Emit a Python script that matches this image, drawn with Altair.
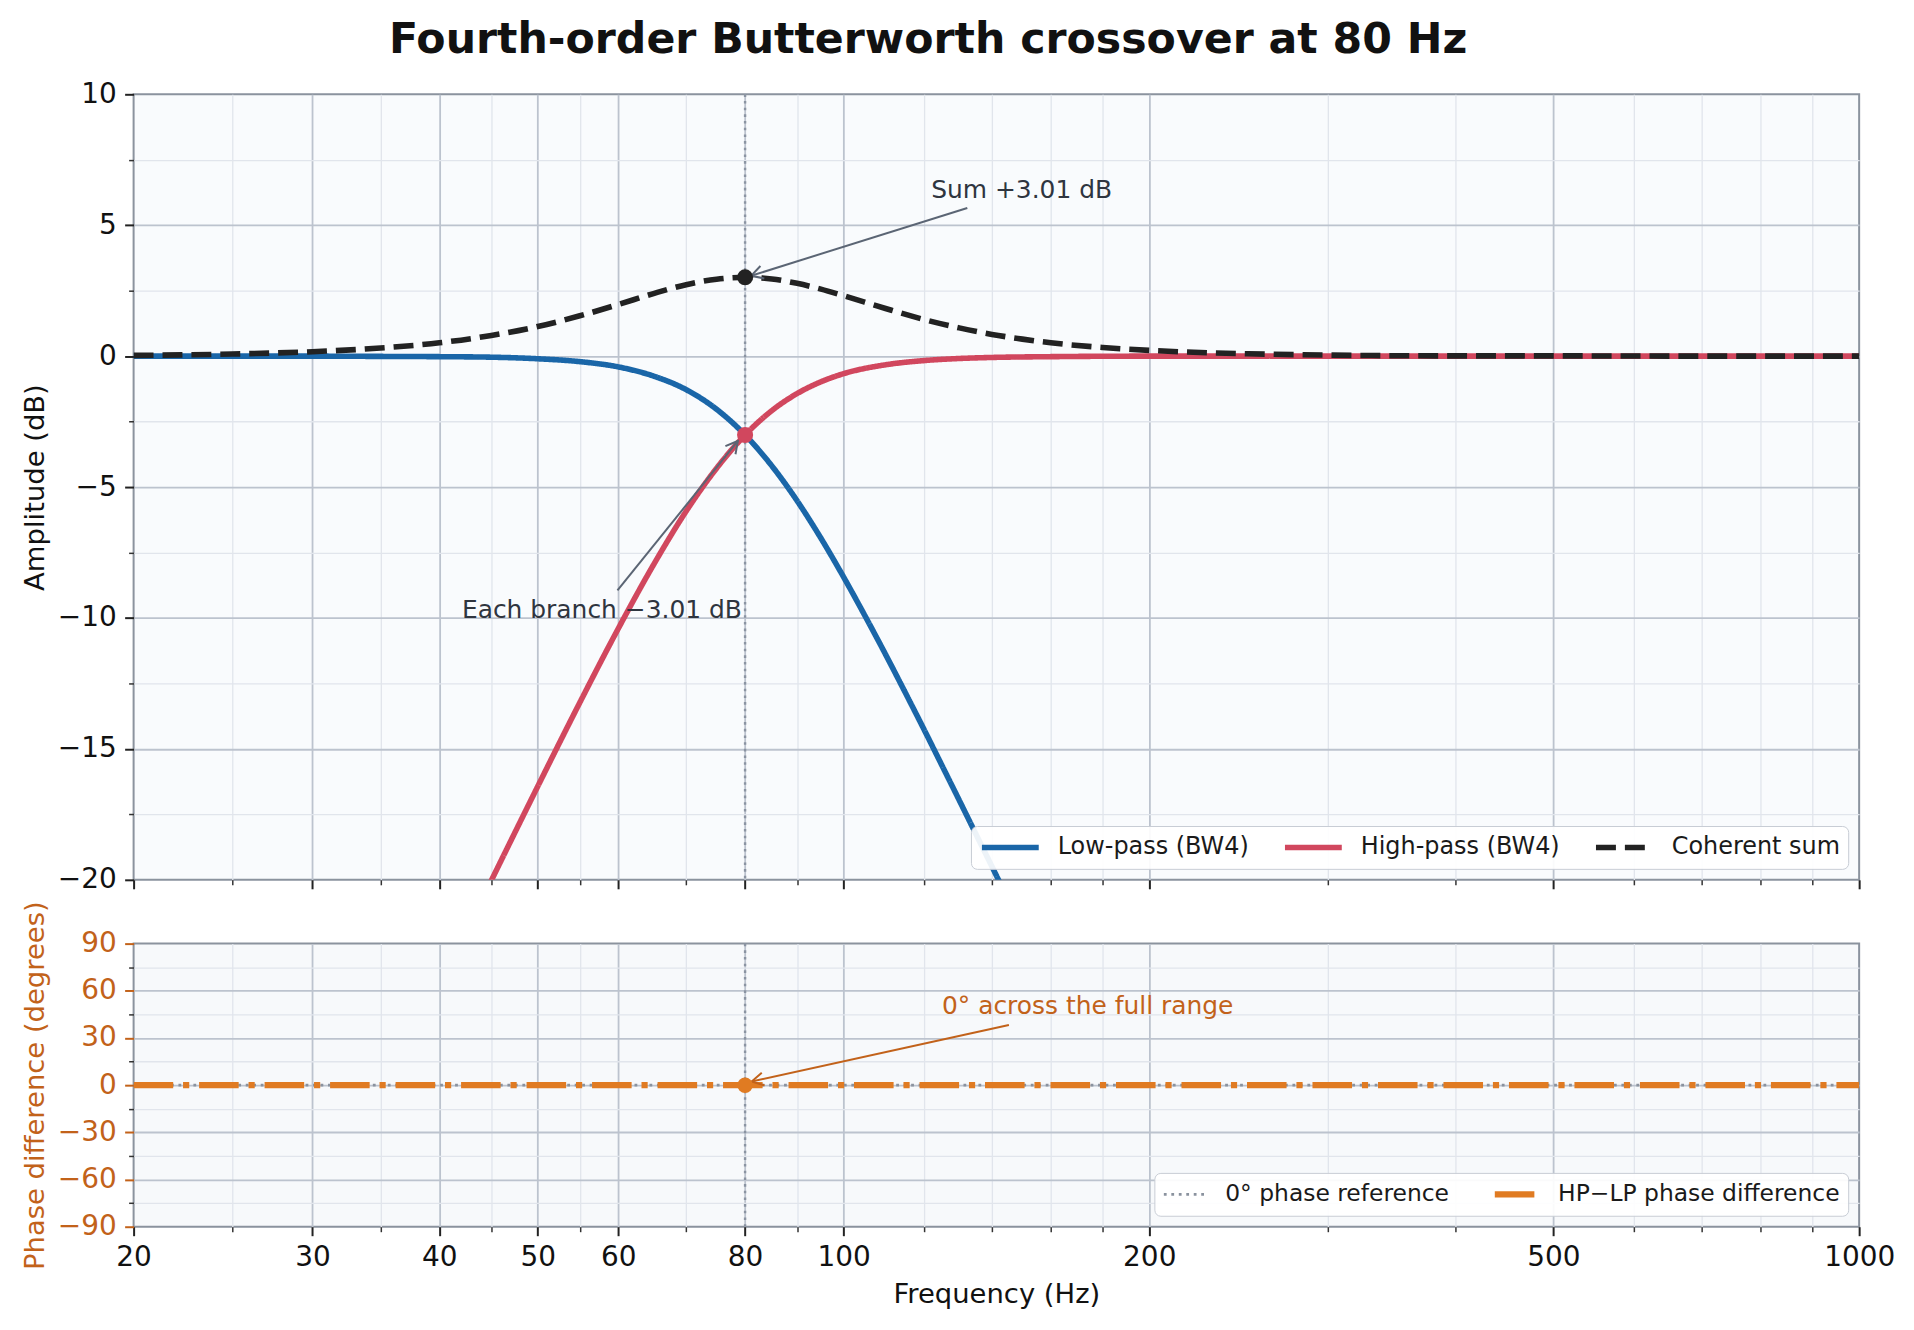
import altair as alt
import pandas as pd

FONT = "DejaVu Sans"

# ---------------- data ----------------
lp_f = [20, 25, 30, 35, 40, 45, 50, 55, 60, 65, 70, 75, 80, 85, 90, 95, 100,
        105, 110, 115, 120, 125, 130, 135, 140, 145, 150, 160]
lp_db = [0.00, 0.00, 0.00, -0.01, -0.02, -0.04, -0.10, -0.21, -0.41, -0.76, -1.28,
         -2.03, -3.01, -4.19, -5.52, -6.95, -8.43, -9.92, -11.39, -12.84, -14.25,
         -15.63, -16.96, -18.25, -19.49, -20.70, -21.87, -24.10]

hp_f = [40, 42, 45, 50, 55, 60, 65, 70, 75, 80, 85, 90, 95, 100, 110, 120, 130,
        140, 160, 200, 300, 500, 1000]
hp_db = [-24.10, -22.41, -20.03, -16.43, -13.23, -10.41, -7.97, -5.92, -4.28, -3.01,
         -2.08, -1.43, -0.98, -0.67, -0.33, -0.17, -0.09, -0.05, -0.02, 0.00, 0.00,
         0.00, 0.00]

sum_f = [20, 25, 30, 35, 40, 45, 50, 55, 60, 65, 70, 75, 80, 85, 90, 95, 100, 110,
         120, 130, 140, 150, 160, 180, 200, 250, 300, 400, 500, 700, 1000]
sum_db = [0.03, 0.08, 0.17, 0.31, 0.51, 0.79, 1.13, 1.54, 1.97, 2.39, 2.73, 2.94,
          3.01, 2.95, 2.78, 2.56, 2.31, 1.82, 1.40, 1.08, 0.83, 0.65, 0.51, 0.33,
          0.22, 0.09, 0.04, 0.01, 0.01, 0.00, 0.00]

ref_f = [20, 1000]
ref_deg = [0, 0]
phase_f = [20, 1000]
phase_deg = [0, 0]

crossover_f = [80]
sum_peak_db = [3.01]
branch_db = [-3.01]
phase_at_xo = [0]

top_series = ["Low-pass (BW4)", "High-pass (BW4)", "Coherent sum"]
bot_series = ["0\u00b0 phase reference", "HP\u2212LP phase difference"]

# annotations (text anchor, arrow start, arrow tip, arrow heading)
top_text = ["Sum +3.01 dB", "Each branch \u22123.01 dB"]
top_text_f = [122, 42.1]
top_text_db = [6.05, -10.0]
top_arrow_f1 = [132.4, 59.9]
top_arrow_db1 = [5.66, -8.95]
top_arrow_f2 = [81.1, 78.7]
top_arrow_db2 = [3.07, -3.24]
top_arrow_angle = [162.6, 308.9]

bot_text = ["0\u00b0 across the full range"]
bot_text_f = [125]
bot_text_deg = [45.5]
bot_arrow_f1 = [145.5]
bot_arrow_deg1 = [38.2]
bot_arrow_f2 = [81.2]
bot_arrow_deg2 = [2.3]
bot_arrow_angle = [167.6]

# ticks
x_major = [20, 30, 40, 50, 60, 80, 100, 200, 500, 1000]
x_grid = [30, 40, 50, 60, 80, 100, 200, 500]
x_minor = [25, 35, 45, 55, 70, 90, 120, 140, 160, 180, 300, 400, 600, 700, 800, 900]
amp_major = [10, 5, 0, -5, -10, -15, -20]
amp_grid = [5, 0, -5, -10, -15]
amp_minor = [7.5, 2.5, -2.5, -7.5, -12.5, -17.5]
ph_major = [90, 60, 30, 0, -30, -60, -90]
ph_grid = [60, 30, 0, -30, -60]
ph_minor = [75, 45, 15, -15, -45, -75]

# ---------------- styles ----------------
BLUE = "#1a66a8"
RED = "#d1475e"
DARK = "#222222"
ORANGE = "#e07b22"
ORANGE_TXT = "#c2621a"
GREY = "#8a929e"
FRAME = "#8b939e"
GRID_MAJ = "#bcc3ce"
GRID_MIN = "#e1e5ec"
ANN = "#2f353f"
ARROW = "#5b6574"
LW = 5.6

W, H1, H2 = 1731, 788, 284

top_df = pd.concat([
    pd.DataFrame({"f": lp_f, "v": lp_db, "s": top_series[0]}),
    pd.DataFrame({"f": hp_f, "v": hp_db, "s": top_series[1]}),
    pd.DataFrame({"f": sum_f, "v": sum_db, "s": top_series[2]}),
], ignore_index=True)

bot_df = pd.concat([
    pd.DataFrame({"f": ref_f, "v": ref_deg, "s": bot_series[0]}),
    pd.DataFrame({"f": phase_f, "v": phase_deg, "s": bot_series[1]}),
], ignore_index=True)

xs = alt.Scale(type="log", domain=[20, 1000], nice=False)
ys_top = alt.Scale(domain=[-20, 10], nice=False, zero=False)
ys_bot = alt.Scale(domain=[-90, 90], nice=False, zero=False)


def ax_minor(vals, orient):
    return alt.Axis(values=vals, orient=orient, grid=True, gridColor=GRID_MIN,
                    gridWidth=1.3, ticks=True, tickSize=5, tickWidth=1.5,
                    tickColor="#333333", labels=False, domain=False, title=None)


def ax_grid(vals, orient):
    return alt.Axis(values=vals, orient=orient, grid=True, gridColor=GRID_MAJ,
                    gridWidth=1.8, ticks=False, labels=False, domain=False, title=None)


def ax_main(vals, orient, title=None, labels=True, color="#111111", tick="#222222"):
    kw = dict(values=vals, orient=orient, grid=False, ticks=True, tickSize=9,
              tickWidth=2, tickColor=tick, labels=labels, domain=False,
              labelFont=FONT, labelFontSize=28, labelColor=color, labelFlush=False,
              labelOverlap=False, format="d", title=title)
    if orient == "bottom":
        kw.update(labelPadding=7.5, titlePadding=10)
    else:
        kw.update(labelPadding=8.5, titlePadding=8)
    if title is not None:
        kw.update(titleFont=FONT, titleFontSize=27.5, titleFontWeight="normal",
                  titleColor=color)
    return alt.Axis(**kw)


def legend(symlen, colpad, fsize, **extra):
    return alt.Legend(title=None, orient="bottom-right", direction="horizontal",
                      offset=11, padding=8, clipHeight=27,
                      fillColor="rgba(255,255,255,0.92)",
                      strokeColor="#c8cdd5", cornerRadius=6, labelFont=FONT,
                      labelFontSize=fsize, labelColor="#1a1a1a", labelLimit=600,
                      labelOffset=16, columnPadding=colpad, symbolType="stroke",
                      symbolSize=symlen * symlen, **extra)


top_leg = legend(57, 33, 24, symbolStrokeWidth=LW)
top_color = alt.Color("s:N", scale=alt.Scale(domain=top_series, range=[BLUE, RED, DARK]),
                      legend=top_leg)
top_dash = alt.StrokeDash("s:N", scale=alt.Scale(domain=top_series,
                                                 range=[[1, 0], [1, 0], [20, 9]]),
                          legend=top_leg)


def top_line(name, xaxis, yaxis):
    return (alt.Chart(top_df).transform_filter(alt.datum.s == name)
            .mark_line(strokeWidth=LW, clip=True, interpolate="monotone", strokeCap="butt")
            .encode(x=alt.X("f:Q", scale=xs, axis=xaxis),
                    y=alt.Y("v:Q", scale=ys_top, axis=yaxis),
                    color=top_color, strokeDash=top_dash))


vrule_top = (alt.Chart(pd.DataFrame({"f": crossover_f}))
             .mark_rule(color="#8b94a2", strokeWidth=2.4, strokeDash=[2.6, 4.1])
             .encode(x=alt.X("f:Q", scale=xs, axis=None)))

lp_layer = top_line(top_series[0], ax_minor(x_minor, "bottom"), ax_minor(amp_minor, "left"))
hp_layer = top_line(top_series[1], ax_grid(x_grid, "bottom"), ax_grid(amp_grid, "left"))
sum_layer = top_line(top_series[2], ax_main(x_major, "bottom", labels=False),
                     ax_main(amp_major, "left", title="Amplitude (dB)"))

top_arrows = pd.DataFrame({"f1": top_arrow_f1, "v1": top_arrow_db1,
                           "f2": top_arrow_f2, "v2": top_arrow_db2,
                           "a": top_arrow_angle})
top_shaft = (alt.Chart(top_arrows).mark_rule(color=ARROW, strokeWidth=2)
             .encode(x=alt.X("f1:Q", scale=xs, axis=None), x2="f2:Q",
                     y=alt.Y("v1:Q", scale=ys_top, axis=None), y2="v2:Q"))
HEAD = "M-1,-0.55L0,0L-1,0.55"
top_head = (alt.Chart(top_arrows)
            .mark_point(shape=HEAD, filled=False, strokeWidth=2, size=560, color=ARROW,
                        opacity=1)
            .encode(x=alt.X("f2:Q", scale=xs, axis=None),
                    y=alt.Y("v2:Q", scale=ys_top, axis=None),
                    angle=alt.Angle("a:Q", scale=None)))

peak_pt = (alt.Chart(pd.DataFrame({"f": crossover_f, "v": sum_peak_db}))
           .mark_circle(size=260, color=DARK, opacity=1)
           .encode(x=alt.X("f:Q", scale=xs, axis=None),
                   y=alt.Y("v:Q", scale=ys_top, axis=None)))
branch_pt = (alt.Chart(pd.DataFrame({"f": crossover_f, "v": branch_db}))
             .mark_circle(size=260, color=RED, opacity=1)
             .encode(x=alt.X("f:Q", scale=xs, axis=None),
                     y=alt.Y("v:Q", scale=ys_top, axis=None)))

top_txt = (alt.Chart(pd.DataFrame({"f": top_text_f, "v": top_text_db, "t": top_text}))
           .mark_text(align="left", baseline="alphabetic", font=FONT, fontSize=25,
                      color=ANN)
           .encode(x=alt.X("f:Q", scale=xs, axis=None),
                   y=alt.Y("v:Q", scale=ys_top, axis=None), text="t:N"))

top = (alt.layer(vrule_top, lp_layer, hp_layer, sum_layer, top_shaft, top_head,
                 peak_pt, branch_pt, top_txt)
       .resolve_axis(x="independent", y="independent")
       .properties(width=W, height=H1,
                   view=alt.ViewBackground(fill="#f9fbfd", stroke=FRAME, strokeWidth=2)))

# ---------------- bottom panel ----------------
bot_leg = legend(44, 42, 23.5)
bot_color = alt.Color("s:N", scale=alt.Scale(domain=bot_series, range=[GREY, ORANGE]),
                      legend=bot_leg)
bot_dash = alt.StrokeDash("s:N", scale=alt.Scale(domain=bot_series,
                                                 range=[[2.8, 4.7], [39.7, 9.9, 6.2, 9.9]]),
                          legend=bot_leg)
bot_width = alt.StrokeWidth("s:N", scale=alt.Scale(domain=bot_series, range=[2.8, 6.2]),
                            legend=bot_leg)


def bot_line(name, xaxis, yaxis):
    return (alt.Chart(bot_df).transform_filter(alt.datum.s == name)
            .mark_line(clip=True, strokeCap="butt")
            .encode(x=alt.X("f:Q", scale=xs, axis=xaxis),
                    y=alt.Y("v:Q", scale=ys_bot, axis=yaxis),
                    color=bot_color, strokeDash=bot_dash, strokeWidth=bot_width))


vrule_bot = (alt.Chart(pd.DataFrame({"f": crossover_f}))
             .mark_rule(color="#8b94a2", strokeWidth=2.4, strokeDash=[2.6, 4.1])
             .encode(x=alt.X("f:Q", scale=xs, axis=None)))

ref_layer = bot_line(bot_series[0], ax_minor(x_minor, "bottom"), ax_minor(ph_minor, "left"))
ph_layer = bot_line(bot_series[1], ax_grid(x_grid, "bottom"), ax_grid(ph_grid, "left"))

ph_pt = (alt.Chart(pd.DataFrame({"f": crossover_f, "v": phase_at_xo}))
         .mark_circle(size=240, color=ORANGE, opacity=1)
         .encode(x=alt.X("f:Q", scale=xs,
                         axis=ax_main(x_major, "bottom", title="Frequency (Hz)")),
                 y=alt.Y("v:Q", scale=ys_bot,
                         axis=ax_main(ph_major, "left", title="Phase difference (degrees)",
                                      color=ORANGE_TXT, tick=ORANGE_TXT))))

bot_arrows = pd.DataFrame({"f1": bot_arrow_f1, "v1": bot_arrow_deg1,
                           "f2": bot_arrow_f2, "v2": bot_arrow_deg2,
                           "a": bot_arrow_angle})
bot_shaft = (alt.Chart(bot_arrows).mark_rule(color=ORANGE_TXT, strokeWidth=2)
             .encode(x=alt.X("f1:Q", scale=xs, axis=None), x2="f2:Q",
                     y=alt.Y("v1:Q", scale=ys_bot, axis=None), y2="v2:Q"))
bot_head = (alt.Chart(bot_arrows)
            .mark_point(shape=HEAD, filled=False, strokeWidth=2, size=560,
                        color=ORANGE_TXT, opacity=1)
            .encode(x=alt.X("f2:Q", scale=xs, axis=None),
                    y=alt.Y("v2:Q", scale=ys_bot, axis=None),
                    angle=alt.Angle("a:Q", scale=None)))
bot_txt = (alt.Chart(pd.DataFrame({"f": bot_text_f, "v": bot_text_deg, "t": bot_text}))
           .mark_text(align="left", baseline="alphabetic", font=FONT, fontSize=25,
                      color=ORANGE_TXT)
           .encode(x=alt.X("f:Q", scale=xs, axis=None),
                   y=alt.Y("v:Q", scale=ys_bot, axis=None), text="t:N"))

bottom = (alt.layer(vrule_bot, ref_layer, ph_layer, bot_shaft, bot_head, ph_pt, bot_txt)
          .resolve_axis(x="independent", y="independent")
          .properties(width=W, height=H2,
                      view=alt.ViewBackground(fill="#f7f9fb", stroke=FRAME, strokeWidth=2)))

chart = (alt.vconcat(top, bottom, spacing=64, bounds="flush")
         .resolve_scale(color="independent", strokeDash="independent",
                        strokeWidth="independent")
         .properties(
             title=alt.TitleParams(
                 text="Fourth-order Butterworth crossover at 80 Hz", font=FONT,
                 fontSize=42.8, fontWeight="bold", color="#111111", anchor="middle",
                 frame="bounds", dx=-30, offset=17.5),
             padding={"left": 12, "top": 8.5, "right": 10, "bottom": 10},
             background="#ffffff")
         .configure_view(strokeWidth=2))

chart.save("out.html", embed_options={"renderer": "svg", "actions": False})
